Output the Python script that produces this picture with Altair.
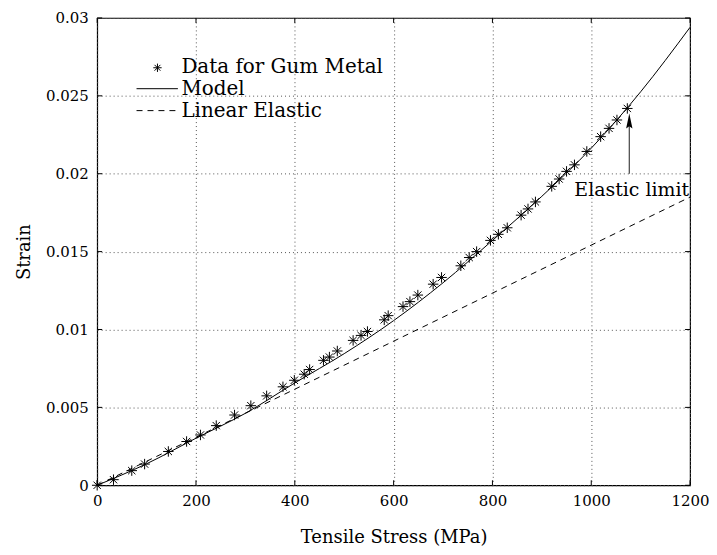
import altair as alt
import pandas as pd

# ---- data ----
stress = [0, 33, 70, 96, 144, 181, 209, 241, 278, 311, 343, 376, 399, 419, 430,
          458, 470, 486, 518, 534, 547, 581, 589, 619, 633, 649, 680, 697, 736, 753,
          768, 796, 812, 830, 858, 872, 887, 920, 935, 950, 966, 991, 1019, 1036, 1052, 1073]
strain = [0, 0.00036, 0.00094, 0.00136, 0.00217, 0.00281, 0.00323, 0.00383, 0.00451, 0.00511,
          0.00574, 0.00632, 0.00674, 0.00713, 0.00743, 0.00802, 0.00823, 0.00862, 0.0093, 0.00962,
          0.00987, 0.01062, 0.01089, 0.01147, 0.01179, 0.01221, 0.01291, 0.01334, 0.01409, 0.01462,
          0.015, 0.01572, 0.01611, 0.01653, 0.01734, 0.01774, 0.01819, 0.01919, 0.01966, 0.02015,
          0.02057, 0.02143, 0.02238, 0.02291, 0.02345, 0.02419]

model_x = [0, 100, 200, 300, 400, 500, 600, 700, 800, 900, 1000, 1100, 1200]
model_y = [0, 0.00138, 0.00302, 0.00462, 0.00657, 0.00845, 0.01057, 0.0130, 0.01572,
           0.01855, 0.02164, 0.02526, 0.0294]

linear_x = [0, 1200]
linear_y = [0, 0.0185]

xticks = [0, 200, 400, 600, 800, 1000, 1200]
yticks = [0, 0.005, 0.01, 0.015, 0.02, 0.025, 0.03]

legend_labels = ["Data for Gum Metal", "Model", "Linear Elastic"]

annot_text = "Elastic limit"
annot_x = [1082]
annot_y = [0.01893]
arrow_x = [1077]
arrow_y0 = [0.0200]
arrow_y1 = [0.0232]
arrow_head_y = [0.02338]

W, H = 595, 469
FONT = "DejaVu Serif"
STAR = "M-1,0L1,0M0,-1L0,1M-0.7,-0.7L0.7,0.7M-0.7,0.7L0.7,-0.7"
HEAD = "M0,-1L0.42,1L0,0.7L-0.42,1Z"

X = alt.X("x:Q", scale=alt.Scale(domain=[0, 1200], nice=False, zero=False),
          axis=alt.Axis(values=xticks, title="Tensile Stress (MPa)", grid=True, format="d",
                        labelFlush=False, ticks=False, domain=False, labelPadding=8,
                        titlePadding=20))
Y = alt.Y("y:Q", scale=alt.Scale(domain=[0, 0.03], nice=False, zero=False),
          axis=alt.Axis(values=yticks, title="Strain", format="~g", grid=True, labelFlush=False,
                        ticks=False, domain=False, labelPadding=9, titlePadding=12))

df_data = pd.DataFrame({"x": stress, "y": strain})
df_model = pd.DataFrame({"x": model_x, "y": model_y})
df_lin = pd.DataFrame({"x": linear_x, "y": linear_y})
df_xt = pd.DataFrame({"x": xticks})
df_yt = pd.DataFrame({"y": yticks})
one = pd.DataFrame({"a": [0]})

lin = alt.Chart(df_lin).mark_line(color="black", strokeWidth=1, strokeDash=[6, 5]).encode(x=X, y=Y)
model = alt.Chart(df_model).mark_line(color="black", strokeWidth=1, interpolate="monotone").encode(x=X, y=Y)
pts = alt.Chart(df_data).mark_point(shape=STAR, filled=False, color="black", size=110,
                                    strokeWidth=1, opacity=1).encode(x=X, y=Y)

# inward ticks on all four sides
tick_b = alt.Chart(df_xt).mark_rule(color="black").encode(x=X, y=alt.value(H), y2=alt.value(H - 5))
tick_t = alt.Chart(df_xt).mark_rule(color="black").encode(x=X, y=alt.value(0), y2=alt.value(5))
tick_l = alt.Chart(df_yt).mark_rule(color="black").encode(y=Y, x=alt.value(0), x2=alt.value(5))
tick_r = alt.Chart(df_yt).mark_rule(color="black").encode(y=Y, x=alt.value(W), x2=alt.value(W - 5))

# annotation
df_arrow = pd.DataFrame({"x": arrow_x, "y": arrow_y0, "y2": arrow_y1})
arrow = alt.Chart(df_arrow).mark_rule(color="#444", strokeWidth=1.2).encode(x=X, y=Y, y2="y2:Q")
df_head = pd.DataFrame({"x": arrow_x, "y": arrow_head_y})
head = alt.Chart(df_head).mark_point(shape=HEAD, filled=True, color="black", size=230,
                                     opacity=1).encode(x=X, y=Y)
df_ann = pd.DataFrame({"x": annot_x, "y": annot_y})
ann = alt.Chart(df_ann).mark_text(text=annot_text, font=FONT, fontSize=19, color="black",
                                  align="center", baseline="middle").encode(x=X, y=Y)

# manual legend
leg_star = alt.Chart(one).mark_point(shape=STAR, filled=False, color="black", size=70,
                                     strokeWidth=1, opacity=1).encode(x=alt.value(60.5), y=alt.value(50))
leg_solid = alt.Chart(one).mark_rule(color="black", strokeWidth=1).encode(
    x=alt.value(39.5), x2=alt.value(81), y=alt.value(71))
leg_dash = alt.Chart(one).mark_rule(color="black", strokeWidth=1, strokeDash=[6, 5]).encode(
    x=alt.value(39.5), x2=alt.value(81), y=alt.value(93))
leg_texts = []
for lbl, yy in zip(legend_labels, [49, 71, 93]):
    leg_texts.append(alt.Chart(one).mark_text(text=lbl, font=FONT, fontSize=20, color="black",
                                              align="left", baseline="middle").encode(
        x=alt.value(84.5), y=alt.value(yy)))

chart = alt.layer(lin, model, pts, tick_b, tick_t, tick_l, tick_r, arrow, head, ann,
                  leg_star, leg_solid, leg_dash, *leg_texts).properties(
    width=W, height=H,
    autosize=alt.AutoSizeParams(type="none"),
    padding={"left": 89.5, "top": 9, "right": 19, "bottom": 70},
    background="white",
).configure_view(stroke="black", strokeWidth=1.2
).configure_axis(
    labelFont=FONT, titleFont=FONT, labelFontSize=15, titleFontSize=18,
    labelColor="black", titleColor="black", titleFontWeight="normal",
    gridColor="#555", gridDash=[1, 3], gridOpacity=1, gridWidth=1,
)

chart.save("out.html", embed_options={"renderer": "svg", "actions": False})
